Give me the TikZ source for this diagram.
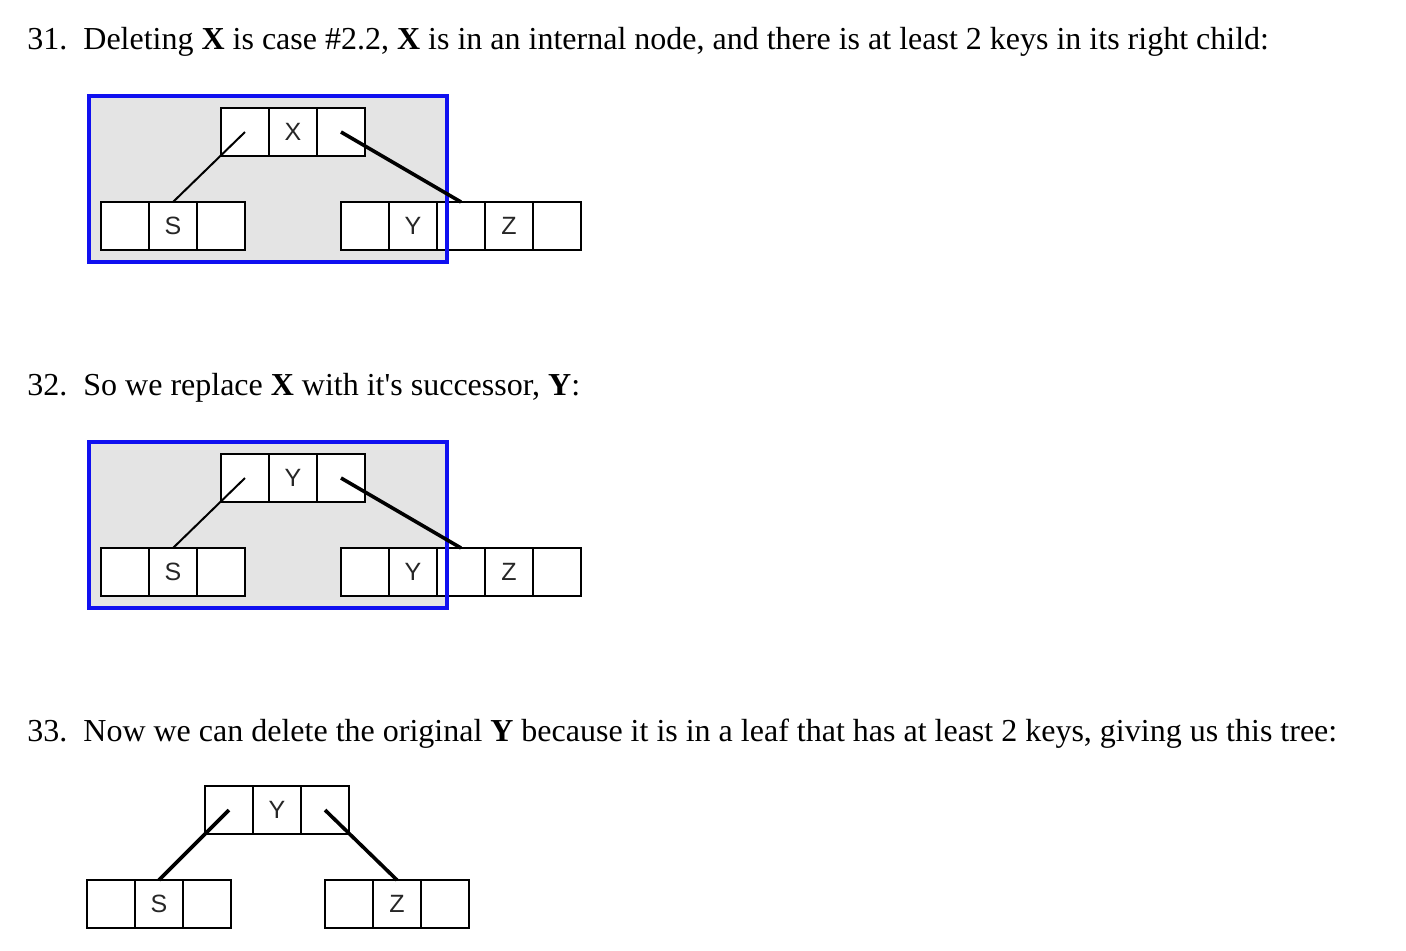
\documentclass[tikz,border=0pt]{standalone}
\usepackage{fontspec}
\setmainfont{Liberation Serif}
\newfontfamily\keyfont{Liberation Sans}
\usepackage{tikz}
\usetikzlibrary{positioning}

\definecolor{boxgray}{HTML}{E4E4E4}
\definecolor{boxblue}{HTML}{1010F0}

\tikzset{
  keycell/.style={draw, line width=1pt, fill=white, outer sep=0pt, inner sep=0pt,
    minimum width=24pt, minimum height=24pt, text=black!85,
    font=\keyfont\fontsize{12.5pt}{13pt}\selectfont},
  ptr/.style={line width=1pt},
  ptrthick/.style={line width=1.8pt},
  hilite/.style={draw=boxblue, line width=2pt},
  step text/.style={anchor=base west, inner sep=0pt,
    font=\fontsize{16pt}{19pt}\selectfont}
}

\begin{document}
\begin{tikzpicture}[x=0.5pt,y=-0.5pt]
 \useasboundingbox (0,0) rectangle (1406,950);

 % 31. X in internal node
 \node[step text] (n31) at (27,49) {31.};
 \node[step text] (q31) at (83,49) {Deleting \textbf{X} is case \#2.2, \textbf{X} is in an internal node, and there is at least 2 keys in its right child:};
 \fill[boxgray] (89,96) rectangle (447,262);
 \node[keycell] (a1) at (245,132) {};
 \node[keycell, right=0pt of a1] (a2) {X};
 \node[keycell, right=0pt of a2] (a3) {};
 \node[keycell] (as1) at (125,226) {};
 \node[keycell, right=0pt of as1] (as2) {S};
 \node[keycell, right=0pt of as2] (as3) {};
 \node[keycell] (ar1) at (365,226) {};
 \node[keycell, right=0pt of ar1] (ar2) {Y};
 \node[keycell, right=0pt of ar2] (ar3) {};
 \node[keycell, right=0pt of ar3] (ar4) {Z};
 \node[keycell, right=0pt of ar4] (ar5) {};
 \draw[hilite] (89,96) rectangle (447,262);
 \draw[ptr] (a1.center) -- (as2.north);
 \draw[ptrthick] (a3.center) -- (ar3.north);

 % 32. replace X by successor Y
 \node[step text] (n32) at (27,395) {32.};
 \node[step text] (q32) at (83,395) {So we replace \textbf{X} with it\textquotesingle s successor, \textbf{Y}:};
 \fill[boxgray] (89,442) rectangle (447,608);
 \node[keycell] (b1) at (245,478) {};
 \node[keycell, right=0pt of b1] (b2) {Y};
 \node[keycell, right=0pt of b2] (b3) {};
 \node[keycell] (bs1) at (125,572) {};
 \node[keycell, right=0pt of bs1] (bs2) {S};
 \node[keycell, right=0pt of bs2] (bs3) {};
 \node[keycell] (br1) at (365,572) {};
 \node[keycell, right=0pt of br1] (br2) {Y};
 \node[keycell, right=0pt of br2] (br3) {};
 \node[keycell, right=0pt of br3] (br4) {Z};
 \node[keycell, right=0pt of br4] (br5) {};
 \draw[hilite] (89,442) rectangle (447,608);
 \draw[ptr] (b1.center) -- (bs2.north);
 \draw[ptrthick] (b3.center) -- (br3.north);

 % 33. delete Y from the leaf
 \node[step text] (n33) at (27,741) {33.};
 \node[step text] (q33) at (83,741) {Now we can delete the original \textbf{Y} because it is in a leaf that has at least 2 keys, giving us this tree:};
 \node[keycell] (c1) at (229,810) {};
 \node[keycell, right=0pt of c1] (c2) {Y};
 \node[keycell, right=0pt of c2] (c3) {};
 \node[keycell] (cs1) at (111,904) {};
 \node[keycell, right=0pt of cs1] (cs2) {S};
 \node[keycell, right=0pt of cs2] (cs3) {};
 \node[keycell] (cr1) at (349,904) {};
 \node[keycell, right=0pt of cr1] (cr2) {Z};
 \node[keycell, right=0pt of cr2] (cr3) {};
 \draw[ptrthick] (c1.center) -- (cs2.north);
 \draw[ptrthick] (c3.center) -- (cr2.north);

\end{tikzpicture}
\end{document}
